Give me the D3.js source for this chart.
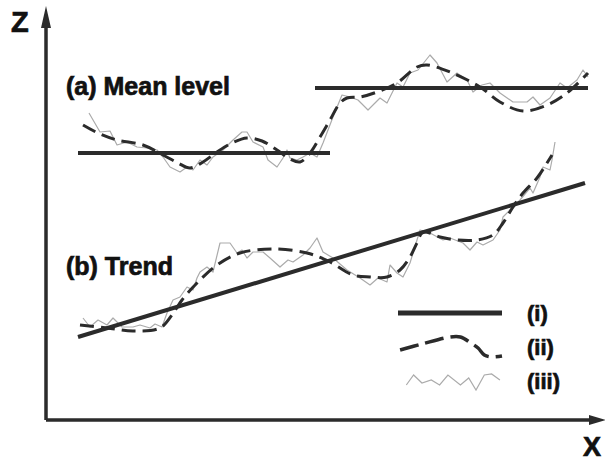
<!DOCTYPE html>
<html>
<head>
<meta charset="utf-8">
<script src="https://cdn.jsdelivr.net/npm/d3@7"></script>
<style>
  html, body { margin: 0; padding: 0; background: #fff; }
  svg { display: block; }
  text { font-family: "Liberation Sans", Arial, Helvetica, sans-serif; font-weight: bold; fill: #111; stroke: #111; stroke-width: 0.7; }
</style>
</head>
<body>
<svg id="chart" width="605" height="461"></svg>
<script>
// ---- Series: time t (arbitrary units) and level Z ----

// (a) Mean level: two constant means and the observed series
const meanLevelSegments = [
  { t0: 32, t1: 284, z: 267 },
  { t0: 269, t1: 542, z: 332 }
];
const meanSmooth = [
  [37,295],[54,286],[71,280],[97,275],[117,265],[132,257],[144,252],[157,258],[171,268],
  [186,277],[201,282],[216,279],[231,270],[244,261],[254,258],[264,267],[274,283],[284,300],
  [294,317],[301,322],[314,323],[331,328],[351,337],[371,353],[381,355],[404,348],[434,333],
  [454,318],[477,309],[501,315],[521,327],[542,347]
];
const meanRaw = [
  [43,307],[54,288],[64,289],[71,275],[81,278],[91,273],[101,272],[111,270],[117,263],
  [124,253],[134,248],[141,253],[147,250],[154,260],[161,255],[167,263],[177,270],[187,280],
  [196,288],[201,288],[207,278],[217,273],[222,260],[231,253],[237,262],[241,270],[244,262],
  [251,260],[257,263],[264,267],[271,263],[277,277],[287,303],[296,325],[304,323],[312,320],
  [322,310],[334,322],[341,317],[351,337],[357,333],[364,347],[372,350],[384,365],[391,357],
  [401,338],[411,347],[421,340],[427,328],[436,335],[444,337],[454,327],[467,318],[481,318],
  [487,323],[494,315],[504,322],[514,337],[521,332],[531,340],[537,350],[542,343]
];

// (b) Trend: fitted straight line and the observed series
const trendLine = [[32, 83], [539, 237]];
const trendSmooth = [
  [34,95],[61,92],[87,89],[114,92],[126,105],[136,120],[151,137],[171,155],[194,167],
  [227,171],[261,167],[284,158],[307,145],[324,143],[341,143],[354,150],[364,163],[371,177],
  [377,188],[394,183],[411,180],[431,180],[447,185],[457,197],[467,213],[477,227],[491,242],
  [501,257],[506,265]
];
const trendRaw = [
  [37,102],[44,93],[52,100],[61,95],[67,102],[76,93],[87,93],[94,95],[104,92],[109,96],
  [116,93],[121,107],[127,120],[134,123],[141,133],[147,130],[151,142],[154,148],[161,153],
  [167,148],[174,177],[184,177],[191,167],[196,170],[201,162],[207,168],[217,168],[224,162],
  [234,153],[242,160],[247,158],[257,165],[264,172],[271,182],[277,168],[287,162],[301,150],
  [314,142],[324,135],[332,142],[341,138],[344,155],[351,147],[357,143],[364,157],[371,180],
  [374,190],[384,187],[397,180],[404,182],[417,177],[424,170],[431,178],[437,175],[447,180],
  [454,190],[457,203],[464,210],[474,220],[484,232],[487,227],[494,243],[497,253],[504,250],
  [506,260],[509,278]
];

// Legend entries and their sample glyphs (relative units)
const legendLabels = ["(i)", "(ii)", "(iii)"];
const legendDashSample = [[2,3],[23,-3],[50,-10],[60,-10],[70,-4],[77,1],[83,8],[90,10],[100,9]];
const legendRawSample = [[8,4],[15,-6],[23,2],[32,-1],[40,4],[48,-6],[60,4],[68,-3],[75,9],[83,-6],[90,-7],[98,-1]];

const panelLabels = [
  { text: "(a) Mean level", t: 20, z: 325 },
  { text: "(b) Trend", t: 20, z: 145 }
];

// ---- Drawing ----
const svg = d3.select("#chart");
const ink = "#2b2b2b";
const rawGrey = "#ababab";

const x = d3.scaleLinear().domain([0, 560]).range([46, 606]);
const y = d3.scaleLinear().domain([0, 410]).range([420, 10]);

const linear = d3.line().x(d => x(d[0])).y(d => y(d[1]));
const smooth = d3.line().x(d => x(d[0])).y(d => y(d[1])).curve(d3.curveCatmullRom.alpha(0.5));

// Axes with arrow heads
svg.append("path")
  .attr("d", `M${x(0)},${y(0)}V${y(400)}M${x(0)},${y(0)}H${x(548)}`)
  .attr("fill", "none").attr("stroke", ink).attr("stroke-width", 3.5);
svg.append("path")
  .attr("d", `M${x(0)},${y(414)}L${x(0) - 5},${y(392)}L${x(0) + 5},${y(392)}Z`)
  .attr("fill", ink);
svg.append("path")
  .attr("d", `M${x(560)},${y(0)}L${x(543)},${y(0) - 5}L${x(543)},${y(0) + 5}Z`)
  .attr("fill", ink);

svg.append("text").attr("x", 11).attr("y", 32).attr("font-size", 29).attr("stroke-width", 1.2).text("Z");
svg.append("text").attr("x", 583).attr("y", 456).attr("font-size", 27).attr("stroke-width", 1.2).text("X");

// Panel labels
svg.selectAll("text.panel").data(panelLabels).join("text")
  .attr("class", "panel")
  .attr("x", d => x(d.t)).attr("y", d => y(d.z))
  .attr("font-size", 25)
  .text(d => d.text);

// Observed (noisy) series
[meanRaw, trendRaw].forEach(s => {
  svg.append("path").attr("d", linear(s))
    .attr("fill", "none").attr("stroke", rawGrey).attr("stroke-width", 1.2)
    .attr("stroke-linejoin", "round");
});

// Smooth underlying signal
[meanSmooth, trendSmooth].forEach(s => {
  svg.append("path").attr("d", smooth(s))
    .attr("fill", "none").attr("stroke", ink).attr("stroke-width", 3)
    .attr("stroke-dasharray", "14,7");
});

// Mean levels and linear trend
svg.selectAll("line.mean").data(meanLevelSegments).join("line")
  .attr("class", "mean")
  .attr("x1", d => x(d.t0)).attr("x2", d => x(d.t1))
  .attr("y1", d => y(d.z)).attr("y2", d => y(d.z))
  .attr("stroke", ink).attr("stroke-width", 4);
svg.append("path").attr("d", linear(trendLine))
  .attr("fill", "none").attr("stroke", ink).attr("stroke-width", 4);

// Legend
const lg = svg.append("g").attr("transform", "translate(398,313)");
const lx = d3.scaleLinear().domain([0, 100]).range([0, 104]);
const ly = d3.scaleLinear().domain([-10, 10]).range([-10, 10]);
const rowGap = 34;
lg.append("line").attr("x1", lx(0)).attr("x2", lx(100)).attr("y1", 0).attr("y2", 0)
  .attr("stroke", ink).attr("stroke-width", 5);
lg.append("path")
  .attr("d", d3.line().x(d => lx(d[0])).y(d => rowGap + ly(d[1])).curve(d3.curveCatmullRom.alpha(0.5))(legendDashSample))
  .attr("fill", "none").attr("stroke", ink).attr("stroke-width", 3.5)
  .attr("stroke-dasharray", "19,7");
lg.append("path")
  .attr("d", d3.line().x(d => lx(d[0])).y(d => 2 * rowGap + ly(d[1]))(legendRawSample))
  .attr("fill", "none").attr("stroke", rawGrey).attr("stroke-width", 1.2);
lg.selectAll("text").data(legendLabels).join("text")
  .attr("x", 129).attr("y", (d, i) => i * rowGap + 8)
  .attr("font-size", 22)
  .text(d => d);
</script>
</body>
</html>
